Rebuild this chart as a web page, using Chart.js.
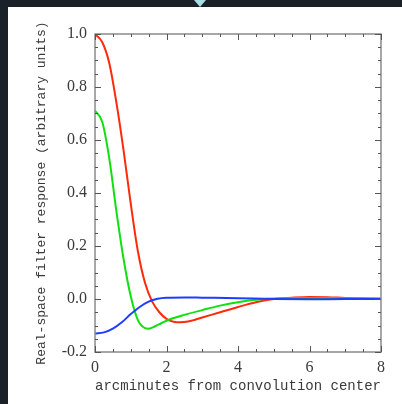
<!DOCTYPE html>
<html>
<head>
<meta charset="utf-8">
<script src="https://cdn.jsdelivr.net/npm/chart.js@4"></script>
<style>
  html, body { margin: 0; padding: 0; }
  body { width: 402px; height: 404px; background: #1b2128; position: relative; overflow: hidden; }
  #panel { position: absolute; left: 8px; top: 7px; width: 394px; height: 397px; background: #fff; }
  #arrow { position: absolute; left: 194px; top: 0; width: 0; height: 0;
           border-left: 6px solid transparent; border-right: 6px solid transparent; border-top: 7px solid #a9dfe3; }
  canvas { display: block; }
</style>
</head>
<body>
<div id="arrow"></div>
<div id="panel"><canvas id="chart" width="394" height="397"></canvas></div>
<script>
// Red curve
const redX = [0, 0.2, 0.4, 0.6, 0.8, 1.0, 1.2, 1.4, 1.6, 1.8, 2.0, 2.2, 2.4, 2.6, 2.8, 3.0, 3.5, 4.0, 4.5, 5.0, 5.5, 6.0, 6.5, 7.0, 7.5, 8.0];
const redY = [1.00, 0.97, 0.89, 0.74, 0.56, 0.36, 0.18, 0.06, -0.01, -0.05, -0.075, -0.086, -0.088, -0.085, -0.078, -0.070, -0.050, -0.030, -0.012, 0.000, 0.005, 0.008, 0.007, 0.004, 0.002, 0.001];

// Green curve
const greenX = [0, 0.2, 0.4, 0.6, 0.8, 1.0, 1.2, 1.4, 1.5, 1.6, 1.8, 2.0, 2.5, 3.0, 3.5, 4.0, 4.5, 5.0, 5.5, 6.0, 7.0, 8.0];
const greenY = [0.71, 0.67, 0.53, 0.33, 0.15, 0.01, -0.08, -0.11, -0.112, -0.108, -0.095, -0.082, -0.060, -0.042, -0.025, -0.012, -0.003, 0.002, 0.004, 0.004, 0.003, 0.002];

// Blue curve
const blueX = [0, 0.25, 0.5, 0.75, 1.0, 1.25, 1.5, 1.75, 2.0, 2.5, 3.0, 4.0, 5.0, 6.0, 7.0, 8.0];
const blueY = [-0.130, -0.126, -0.112, -0.088, -0.057, -0.030, -0.010, 0.001, 0.005, 0.006, 0.005, 0.003, 0.000, -0.001, 0.000, 0.000];

// Tick values
const xTicks = [0, 2, 4, 6, 8];
const yTicks = [-0.2, 0.0, 0.2, 0.4, 0.6, 0.8, 1.0];
const xMinorStep = 0.5;
const yMinorStep = 0.05;

function toPoints(xs, ys) {
    return xs.map((x, i) => ({ x: x, y: ys[i] }));
}

const frameColor = '#8a8a8a';
const textColor = '#3a3a3a';

// Frame and inward ticks on all four sides
const frameTicks = {
    id: 'frameTicks',
    afterDatasetsDraw(chart) {
        const ctx = chart.ctx;
        const a = chart.chartArea;
        const xs = chart.scales.x;
        const ys = chart.scales.y;
        ctx.save();
        ctx.strokeStyle = frameColor;
        ctx.lineWidth = 1.5;
        ctx.strokeRect(a.left, a.top, a.right - a.left, a.bottom - a.top);
        ctx.lineWidth = 1;
        ctx.strokeStyle = '#555';
        ctx.beginPath();
        for (let v = xs.min; v <= xs.max + 1e-9; v += xMinorStep) {
            const px = Math.round(xs.getPixelForValue(v)) + 0.5;
            const len = xTicks.some(t => Math.abs(t - v) < 1e-6) ? 6 : 3;
            ctx.moveTo(px, a.bottom); ctx.lineTo(px, a.bottom - len);
            ctx.moveTo(px, a.top); ctx.lineTo(px, a.top + len);
        }
        for (let v = ys.min; v <= ys.max + 1e-9; v += yMinorStep) {
            const py = Math.round(ys.getPixelForValue(v)) + 0.5;
            const len = yTicks.some(t => Math.abs(t - v) < 1e-6) ? 6 : 3;
            ctx.moveTo(a.left, py); ctx.lineTo(a.left + len, py);
            ctx.moveTo(a.right, py); ctx.lineTo(a.right - len, py);
        }
        ctx.stroke();
        ctx.restore();
    }
};

const lineStyle = {
    borderWidth: 2,
    pointRadius: 0,
    fill: false,
    cubicInterpolationMode: 'monotone'
};

new Chart(document.getElementById('chart'), {
    type: 'line',
    data: {
        datasets: [
            Object.assign({ label: 'blue', data: toPoints(blueX, blueY), borderColor: '#1f3cff' }, lineStyle),
            Object.assign({ label: 'green', data: toPoints(greenX, greenY), borderColor: '#10e010' }, lineStyle),
            Object.assign({ label: 'red', data: toPoints(redX, redY), borderColor: '#ff2a0a' }, lineStyle)
        ]
    },
    options: {
        responsive: false,
        animation: false,
        layout: { padding: { top: 27, right: 21, left: 26, bottom: 9 } },
        plugins: { legend: { display: false }, tooltip: { enabled: false } },
        scales: {
            x: {
                type: 'linear',
                min: 0,
                max: 8,
                afterBuildTicks: s => { s.ticks = xTicks.map(v => ({ value: v })); },
                afterFit: s => { s.height = 43; },
                grid: { display: false, drawTicks: false },
                border: { display: false },
                ticks: {
                    padding: 6,
                    color: textColor,
                    font: { family: 'Liberation Serif', size: 16 },
                    callback: v => String(v)
                },
                title: {
                    display: true,
                    text: 'arcminutes from convolution center',
                    color: textColor,
                    padding: { top: 0, bottom: 0 },
                    font: { family: 'Liberation Mono', size: 14.8 }
                }
            },
            y: {
                type: 'linear',
                min: -0.2,
                max: 1.0,
                afterBuildTicks: s => { s.ticks = yTicks.map(v => ({ value: v })); },
                afterFit: s => { s.width = 61; },
                grid: { display: false, drawTicks: false },
                border: { display: false },
                ticks: {
                    padding: 8,
                    color: textColor,
                    font: { family: 'Liberation Serif', size: 16 },
                    callback: v => v.toFixed(1)
                },
                title: {
                    display: true,
                    text: 'Real-space filter response (arbitrary units)',
                    color: textColor,
                    padding: { top: 0, bottom: 4 },
                    font: { family: 'Liberation Mono', size: 13 }
                }
            }
        }
    },
    plugins: [frameTicks]
});
</script>
</body>
</html>
